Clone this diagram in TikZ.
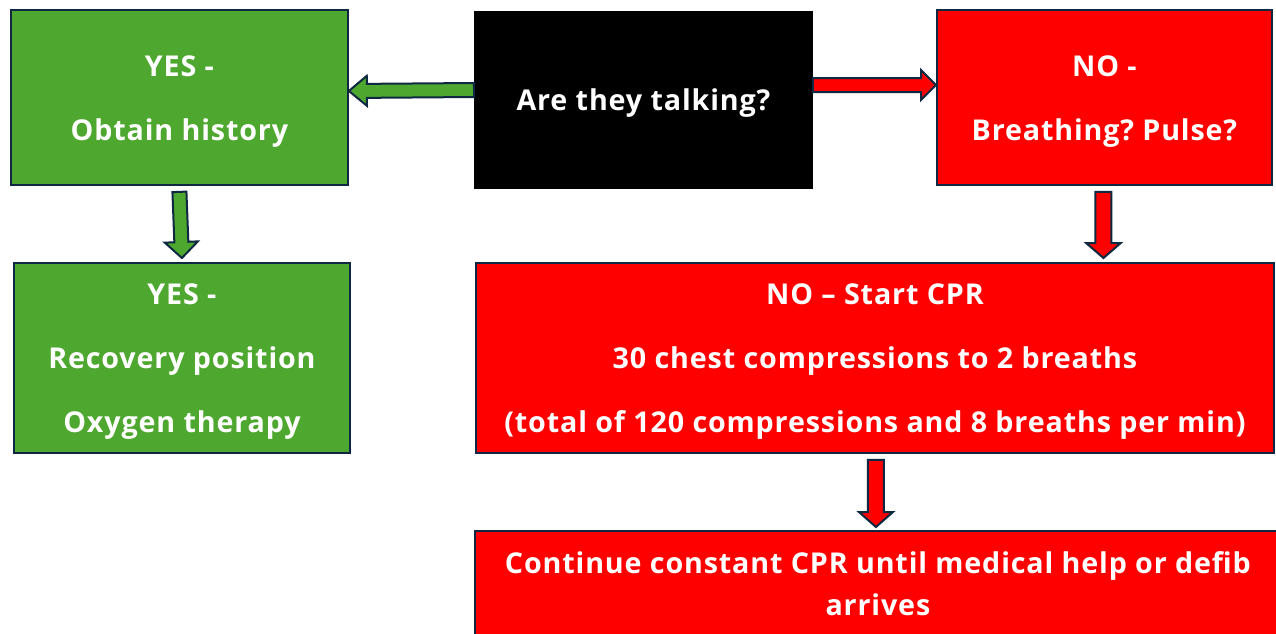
\documentclass[tikz,border=0pt]{standalone}
\usepackage{fontspec}
\setmainfont{Open Sans}[LetterSpace=3]
\usetikzlibrary{calc}
\frenchspacing
\definecolor{boxgreen}{HTML}{4EA72E}
\definecolor{boxred}{HTML}{FF0000}
\definecolor{edgenavy}{HTML}{0E2841}
\newcommand\blockarrow[6]{% #1 fill, #2 start, #3 tip, #4 body half, #5 head half, #6 head length (pt)
  \coordinate (bah) at ($(#3)!#6pt!(#2)$);
  \draw[arrowline, fill=#1]
    ($(#2)!#4pt!90:(#3)$) -- ($(bah)!#4pt!-90:(#2)$) -- ($(bah)!#5pt!-90:(#2)$)
    -- (#3) -- ($(bah)!#5pt!90:(#2)$) -- ($(bah)!#4pt!90:(#2)$)
    -- ($(#2)!#4pt!-90:(#3)$) -- cycle;
}
\tikzset{
  box/.style={draw=edgenavy, line width=1.4pt, anchor=north west, inner sep=0pt},
  txt/.style={text=white, align=center, inner sep=0pt, font=\fontsize{21.5}{48}\selectfont\bfseries},
  arrowline/.style={draw=edgenavy, line width=1.5pt, line join=miter},
}
\begin{document}
\begin{tikzpicture}[x=0.75pt,y=-0.75pt]
\useasboundingbox[fill=white] (0,0) rectangle (1276,633);
\node[box, fill=boxgreen, minimum width={337*0.75pt}, minimum height={175*0.75pt}] (yes1) at (10,9) {};
\node[box, draw=black, fill=black, minimum width={337*0.75pt}, minimum height={176*0.75pt}] (ask) at (474,11) {};
\node[box, fill=boxred, minimum width={335*0.75pt}, minimum height={175*0.75pt}] (no1) at (936,9) {};
\node[box, fill=boxgreen, minimum width={336*0.75pt}, minimum height={190*0.75pt}] (yes2) at (13,262) {};
\node[box, fill=boxred, minimum width={798*0.75pt}, minimum height={190*0.75pt}] (cpr) at (475,262) {};
\node[box, fill=boxred, minimum width={806*0.75pt}, minimum height={108*0.75pt}] (cont) at (474,530) {};
\node[txt] (yes1t) at ($(yes1.center)+(0,4)$) {YES -\\Obtain history};
\node[txt] (askt) at ($(ask.center)+(0,3)$) {Are they talking?};
\node[txt] (no1t) at ($(no1.center)+(0,4)$) {NO -\\Breathing? Pulse?};
\node[txt] (yes2t) at ($(yes2.center)+(0,4)$) {YES -\\Recovery position\\Oxygen therapy};
\node[txt] (cprt) at ($(cpr.center)+(0,4)$) {NO -- Start CPR\\30 chest compressions to 2 breaths\\(total of 120 compressions and 8 breaths per min)};
\node[txt, font=\fontsize{21.5}{31.5}\selectfont\bfseries] (contt) at ($(cont.north)+(0,54)$) {Continue constant CPR until medical help or defib\\arrives};
\coordinate (a1s) at (ask.west |- 0,90);
\coordinate (a1t) at (yes1.east |- 0,91);
\coordinate (a2s) at (ask.east |- 0,85);
\coordinate (a2t) at (no1.west |- 0,85);
\coordinate (a3s) at ($(yes1.south)+(0,6)$);
\coordinate (a3t) at ($(yes2.north)+(0,-4)$);
\coordinate (a4s) at ($(no1.south)+(-1,6)$);
\coordinate (a4t) at ($(cpr.north -| no1.south)+(-1,-4)$);
\coordinate (a5s) at ($(cpr.south)+(1,6)$);
\coordinate (a5t) at ($(cont.north -| cpr.south)+(1,-3)$);
\blockarrow{boxgreen}{a1s}{a1t}{5.25}{11.25}{13.5}
\blockarrow{boxred}{a2s}{a2t}{5.25}{11.25}{11.25}
\blockarrow{boxgreen}{a3s}{a3t}{5.25}{12.4}{12}
\blockarrow{boxred}{a4s}{a4t}{6}{13}{11.25}
\blockarrow{boxred}{a5s}{a5t}{6}{12.75}{11.25}
\end{tikzpicture}
\end{document}
